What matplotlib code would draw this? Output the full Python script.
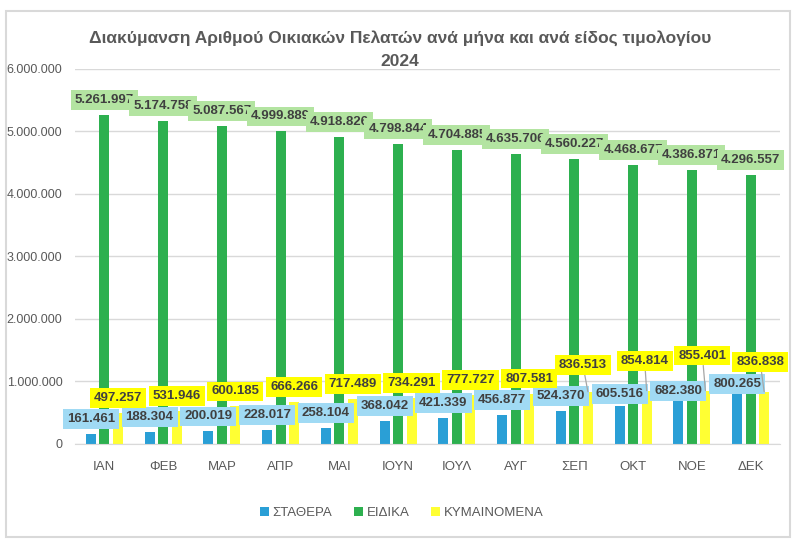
import matplotlib.pyplot as plt
import numpy as np
from matplotlib.patches import Rectangle

# dedomena 2024
mines = ['ΙΑΝ', 'ΦΕΒ', 'ΜΑΡ', 'ΑΠΡ', 'ΜΑΙ', 'ΙΟΥΝ', 'ΙΟΥΛ', 'ΑΥΓ', 'ΣΕΠ', 'ΟΚΤ', 'ΝΟΕ', 'ΔΕΚ']
stathera = [161461, 188304, 200019, 228017, 258104, 368042, 421339, 456877, 524370, 605516, 682380, 800265]
eidika = [5261997, 5174758, 5087567, 4999889, 4918826, 4798844, 4704885, 4635706, 4560227, 4468677, 4386871, 4296557]
kymainomena = [497257, 531946, 600185, 666266, 717489, 734291, 777727, 807581, 836513, 854814, 855401, 836838]

# metakiniseis etiketon (pixels) gia na min epikaluptontai
lift_kym = [0, 0, 0, 0, 0, 0, 0, 0, 12, 15, 20, 15]
shift_kym = [0, 0, 0, 0, 0, 0, 0, 0, -5, -2, -3, -4]
lift_sta = [0, 0, 0, 0, 0, 0, 0, 0, 0, -3, -5, -5]

grey = '#595959'
txt = '#404040'
plt.rcParams['font.family'] = ['Liberation Sans', 'DejaVu Sans']

fig = plt.figure(figsize=(8, 5.47), dpi=100)
ax = fig.add_axes([0.09375, 0.1883, 0.88125, 0.6856])

x = np.arange(len(mines))
w = 0.17
d = 0.23
b1 = ax.bar(x - d, stathera, w, color='#2A9FD6', label='ΣΤΑΘΕΡΑ', zorder=2)
b2 = ax.bar(x, eidika, w, color='#2DB04F', label='ΕΙΔΙΚΑ', zorder=2)
b3 = ax.bar(x + d, kymainomena, w, color='#FFFF33', label='ΚΥΜΑΙΝΟΜΕΝΑ', zorder=2)


def fmt(v):
    return f'{v:,.0f}'.replace(',', '.')


def etiketa(rect, v, fc, dx, dy, z, line=False):
    xc = rect.get_x() + rect.get_width() / 2
    kw = {}
    if line:
        kw['arrowprops'] = dict(arrowstyle='-', color='#a6a6a6', lw=0.9, shrinkA=0, shrinkB=0)
    ax.annotate(fmt(v), xy=(xc, v), xytext=(dx, dy), textcoords='offset pixels',
                ha='center', va='center', fontsize=9.5, fontweight='bold', color=txt,
                bbox=dict(boxstyle='square,pad=0.3', fc=fc, ec='none'),
                zorder=z, annotation_clip=False, **kw)


for i, r in enumerate(b1):
    etiketa(r, stathera[i], '#A0DAF4', 0, 15 + lift_sta[i], 4)
for i, r in enumerate(b2):
    etiketa(r, eidika[i], '#B3E4A1', 0, 15, 5)
for i, r in enumerate(b3):
    etiketa(r, kymainomena[i], '#FFFF00', shift_kym[i], 15 + lift_kym[i], 6, line=lift_kym[i] > 0)

ax.set_xlim(-0.5, len(mines) - 0.5)
ax.set_ylim(0, 6000000)
ax.set_yticks(range(0, 6000001, 1000000))
ax.set_yticklabels([fmt(v) for v in range(0, 6000001, 1000000)])
ax.set_xticks(x)
ax.set_xticklabels(mines)
ax.tick_params(length=0, colors=grey)
ax.tick_params(axis='x', pad=12, labelsize=9.5)
ax.tick_params(axis='y', pad=9, labelsize=9)
ax.grid(axis='y', color='#d9d9d9', lw=1, zorder=0)
ax.set_axisbelow(True)
for s in ['top', 'right', 'left']:
    ax.spines[s].set_visible(False)
ax.spines['bottom'].set_color('#d9d9d9')

fig.text(0.5, 1 - 38 / 547, 'Διακύμανση Αριθμού Οικιακών Πελατών ανά μήνα και ανά είδος τιμολογίου',
         ha='center', va='center', fontsize=12.5, fontweight='bold', color=grey)
fig.text(0.5, 1 - 61 / 547, '2024', ha='center', va='center', fontsize=12.5,
         fontweight='bold', color=grey)

fig.legend(handles=[b1, b2, b3], loc='center', bbox_to_anchor=(0.502, 1 - 513 / 547), ncol=3,
           frameon=False, fontsize=9.5, labelcolor=grey, handlelength=0.7, handleheight=0.7,
           handletextpad=0.3, columnspacing=1.6)

fig.patches.append(Rectangle((6 / 800, 1 - 537 / 547), 784 / 800, 526 / 547,
                             transform=fig.transFigure, fill=False, ec='#d9d9d9', lw=1.5))

fig.savefig('out.png', dpi=100)
